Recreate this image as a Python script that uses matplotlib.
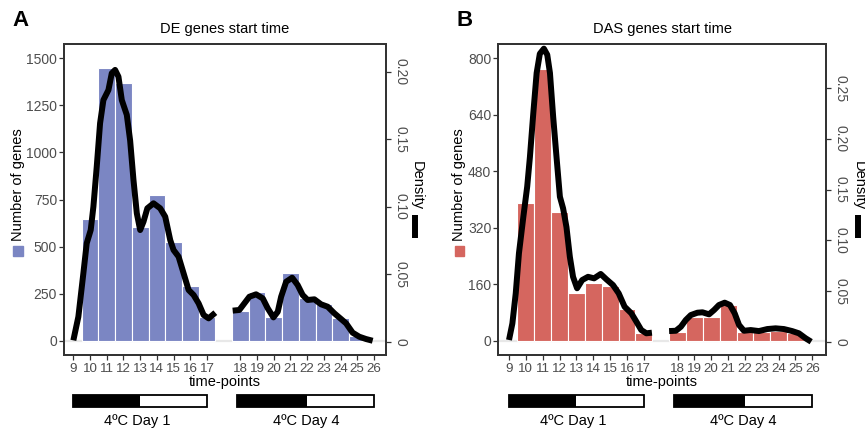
import matplotlib
matplotlib.use("Agg")
import matplotlib.pyplot as plt
import matplotlib.transforms as mtransforms
from matplotlib.patches import Rectangle
from matplotlib.lines import Line2D

plt.rcParams['font.family'] = ['Liberation Sans', 'DejaVu Sans']

W, H = 865, 429

# ---- data ----
timepoints = [10, 11, 12, 13, 14, 15, 16, 17, 18, 19, 20, 21, 22, 23, 24, 25]
tick_labels = list(range(9, 27))

de_counts = [646, 1449, 1369, 604, 774, 524, 291, 128,
             159, 257, 127, 358, 228, 195, 119, 27]
das_counts = [390, 770, 365, 135, 163, 155, 90, 23,
              25, 67, 68, 100, 26, 26, 27, 23]

# density curves, two segments each (day 1 / day 4), x in time-point units
de_d1_t = [9.0, 9.3, 9.6, 9.8, 10.04, 10.2, 10.4, 10.6, 10.8, 11.1, 11.3, 11.5,
           11.7, 11.9, 12.2, 12.4, 12.6, 12.8, 13.0, 13.2, 13.43, 13.8, 14.2,
           14.5, 14.8, 15.0, 15.3, 15.6, 15.9, 16.2, 16.5, 16.8, 17.1, 17.5]
de_d1_d = [0.001, 0.0185, 0.0507, 0.0729, 0.0827, 0.100, 0.1296, 0.1618, 0.179,
           0.1864, 0.1988, 0.2013, 0.1963, 0.179, 0.168, 0.149, 0.1198, 0.0951,
           0.0827, 0.0889, 0.0988, 0.1025, 0.0988, 0.0926, 0.0753, 0.0679,
           0.063, 0.0507, 0.0383, 0.0346, 0.0284, 0.0198, 0.0173, 0.0215]
de_d4_t = [17.54, 17.94, 18.24, 18.54, 18.94, 19.34, 19.64, 19.98, 20.24, 20.44,
           20.74, 21.1, 21.43, 21.73, 22.03, 22.43, 22.83, 23.23, 23.63, 24.03,
           24.33, 24.72, 25.12, 25.52, 25.92]
de_d4_d = [0.023, 0.0235, 0.0284, 0.0333, 0.0351, 0.0321, 0.0247, 0.018, 0.0222,
           0.0333, 0.0444, 0.0474, 0.042, 0.0346, 0.0309, 0.0314, 0.0277, 0.0259,
           0.021, 0.0168, 0.0136, 0.0067, 0.0037, 0.002, 0.0007]

das_d1_t = [9.0, 9.2, 9.4, 9.59, 9.85, 10.08, 10.24, 10.44, 10.64, 10.83, 11.07,
            11.27, 11.43, 11.62, 11.82, 12.02, 12.21, 12.41, 12.61, 12.8, 13.04,
            13.34, 13.69, 14.05, 14.44, 14.78, 15.17, 15.51, 15.86, 16.26, 16.56,
            16.85, 17.15, 17.48]
das_d1_d = [0.0017, 0.018, 0.0477, 0.0872, 0.123, 0.153, 0.182, 0.225, 0.265,
            0.284, 0.289, 0.283, 0.265, 0.222, 0.182, 0.143, 0.1315, 0.113,
            0.0838, 0.064, 0.0527, 0.0608, 0.064, 0.0625, 0.0668, 0.0615, 0.0559,
            0.0477, 0.0345, 0.028, 0.0197, 0.0115, 0.0083, 0.0089]
das_d4_t = [17.5, 17.9, 18.2, 18.49, 18.79, 19.18, 19.48, 19.87, 20.17, 20.46,
            20.8, 21.11, 21.39, 21.65, 21.94, 22.34, 22.83, 23.33, 23.82, 24.31,
            24.8, 25.2, 25.6, 25.93]
das_d4_d = [0.0105, 0.0108, 0.0148, 0.0214, 0.0263, 0.0286, 0.029, 0.027, 0.0313,
            0.0362, 0.0385, 0.0362, 0.028, 0.0165, 0.0108, 0.0115, 0.0105, 0.0125,
            0.0132, 0.0125, 0.0105, 0.0083, 0.0034, 0.0]


def pos(t):
    # day-4 time-points are shifted right by one slot to leave a gap
    return t + 1 if t >= 18 else t


def fx(px):
    return px / W


def fy(py):
    return 1 - py / H


fig = plt.figure(figsize=(W / 100, H / 100), dpi=100)

panels = [
    dict(letter="A", title="DE genes start time", counts=de_counts, color="#7B86C3",
         d1=(de_d1_t, de_d1_d), d4=(de_d4_t, de_d4_d),
         box=(64, 386), xlim=(8.44, 27.72), ylim=(-76, 1576),
         yticks=[0, 250, 500, 750, 1000, 1250, 1500],
         dlim=(-0.00985, 0.2205), dticks=[0, 0.05, 0.10, 0.15, 0.20],
         letter_x=12, ylab_x=18, sq_x=13, dens_x=416.7, key_x=414.5),
    dict(letter="B", title="DAS genes start time", counts=das_counts, color="#D5665F",
         d1=(das_d1_t, das_d1_d), d4=(das_d4_t, das_d4_d),
         box=(498.3, 826), xlim=(8.365, 27.81), ylim=(-40.5, 840),
         yticks=[0, 160, 320, 480, 640, 800],
         dlim=(-0.0131, 0.2936), dticks=[0, 0.05, 0.10, 0.15, 0.20, 0.25],
         letter_x=457, ylab_x=459.3, sq_x=454.5, dens_x=859, key_x=857.7),
]

top, bottom = 44, 355
spine_c = "#333333"
tick_c = "#4D4D4D"

for p in panels:
    left, right = p["box"]
    ax = fig.add_axes([fx(left), fy(bottom), (right - left) / W, (bottom - top) / H])
    ax.axhline(0, color="#E8E8E8", lw=1.6, zorder=0)
    ax.bar([pos(t) for t in timepoints], p["counts"], width=1.0,
           color=p["color"], edgecolor="white", linewidth=0.8, zorder=1)
    ax.set_xlim(*p["xlim"])
    ax.set_ylim(*p["ylim"])
    ax.set_xticks([pos(t) for t in tick_labels])
    ax.set_xticklabels([str(t) for t in tick_labels])
    ax.set_yticks(p["yticks"])
    ax.set_yticklabels([str(v) for v in p["yticks"]])
    ax.tick_params(axis="x", labelsize=9.6, colors=spine_c, labelcolor=tick_c,
                   length=3.5, width=0.9, pad=2)
    ax.tick_params(axis="y", labelsize=10, colors=spine_c, labelcolor=tick_c,
                   length=3.5, width=0.9, pad=1.5)
    for s in ax.spines.values():
        s.set_color(spine_c)
        s.set_linewidth(1.3)
    ax.set_xlabel("time-points", fontsize=10.5, labelpad=0)
    ax.set_title(p["title"], fontsize=10.5, pad=8)

    ax2 = ax.twinx()
    t1, d1 = p["d1"]
    t4, d4 = p["d4"]
    ax2.plot(t1, d1, color="black", lw=4.3, solid_capstyle="butt",
             solid_joinstyle="round")
    ax2.plot([t + 1 for t in t4], d4, color="black", lw=4.3,
             solid_capstyle="butt", solid_joinstyle="round")
    ax2.set_ylim(*p["dlim"])
    ax2.set_yticks(p["dticks"])
    ax2.set_yticklabels(["0" if v == 0 else "%.2f" % v for v in p["dticks"]],
                        rotation=-90, va="center")
    ax2.tick_params(axis="y", labelsize=10, colors=spine_c, labelcolor=tick_c,
                    length=3.5, width=0.9, pad=2)
    for s in ax2.spines.values():
        s.set_color(spine_c)
        s.set_linewidth(1.3)

    # panel letter
    fig.text(fx(p["letter_x"]), fy(20), p["letter"], fontsize=16,
             fontweight="bold", ha="left", va="center")

    # left axis label with fill key
    fig.text(fx(p["ylab_x"]), fy(185), "Number of genes", rotation=90,
             fontsize=10.5, ha="center", va="center")
    fig.patches.append(Rectangle((fx(p["sq_x"]), fy(255.5)), 9.5 / W, 9.5 / H,
                                 transform=fig.transFigure, color=p["color"]))

    # right axis label with line key
    fig.text(fx(p["dens_x"]), fy(186), "Density", rotation=-90,
             fontsize=10.5, ha="center", va="center")
    fig.lines.append(Line2D([fx(p["key_x"])] * 2, [fy(215), fy(238)],
                            transform=fig.transFigure, color="black", lw=4.3,
                            solid_capstyle="butt"))

    # condition bars under the axis
    tr = mtransforms.blended_transform_factory(ax.transData, fig.transFigure)
    y0, h = fy(407), 12 / H
    for start, mid, end in [(9, 13, 17), (18.8, 23, 27)]:
        ax.add_patch(Rectangle((start, y0), mid - start, h, transform=tr,
                               facecolor="black", edgecolor="none", clip_on=False))
        ax.add_patch(Rectangle((start, y0), end - start, h, transform=tr,
                               facecolor="none", edgecolor="black", lw=1.3,
                               clip_on=False))
    ax.text(12.82, fy(420.5), "4ºC Day 1", transform=tr, fontsize=10.5,
            ha="center", va="center")
    ax.text(22.92, fy(420.5), "4ºC Day 4", transform=tr, fontsize=10.5,
            ha="center", va="center")

fig.savefig("out.png", dpi=100)
